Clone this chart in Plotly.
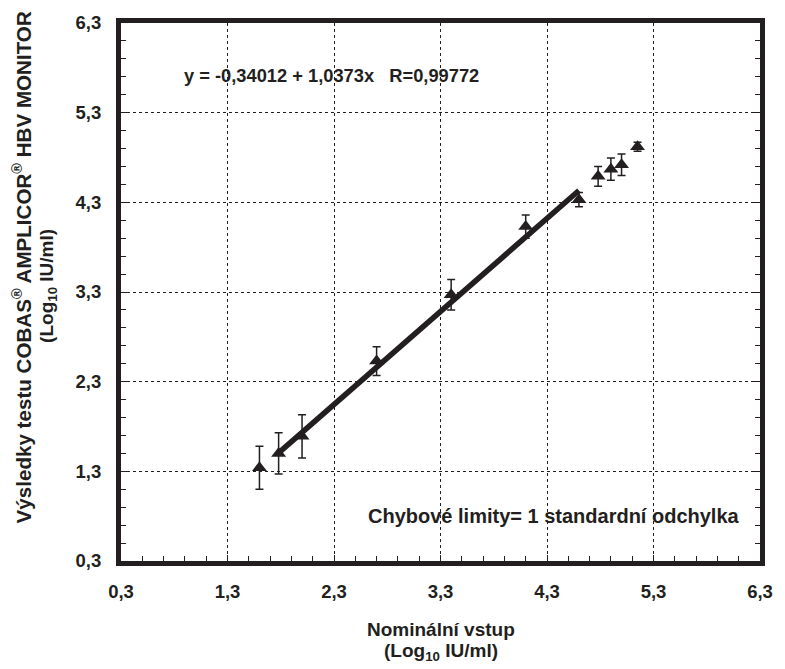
import plotly.graph_objects as go

# Data
nominal = [1.60, 1.78, 2.00, 2.70, 3.40, 4.10, 4.60, 4.78, 4.90, 5.00, 5.15]
measured = [1.34, 1.50, 1.69, 2.53, 3.27, 4.03, 4.33, 4.59, 4.67, 4.72, 4.92]
sd = [0.24, 0.23, 0.24, 0.16, 0.17, 0.13, 0.08, 0.11, 0.125, 0.12, 0.05]

intercept = -0.34012
slope = 1.0373
fit_x = [1.78, 4.60]
fit_y = [intercept + slope * v for v in fit_x]

tick_vals = [0.3, 1.3, 2.3, 3.3, 4.3, 5.3, 6.3]
tick_text = ["0,3", "1,3", "2,3", "3,3", "4,3", "5,3", "6,3"]

ink = "#231f20"
fam = "Liberation Sans, Arial, sans-serif"

fig = go.Figure()
fig.add_trace(go.Scatter(
    x=fit_x, y=fit_y, mode="lines",
    line=dict(color=ink, width=5.5), showlegend=False, hoverinfo="skip"))
fig.add_trace(go.Scatter(
    x=nominal, y=measured, mode="markers",
    marker=dict(symbol="triangle-up", size=13, color=ink),
    error_y=dict(type="data", array=sd, visible=True, color=ink,
                 thickness=1.5, width=4),
    showlegend=False))

axis_common = dict(
    range=[0.3, 6.3], tickvals=tick_vals, ticktext=tick_text,
    showgrid=True, gridcolor=ink, gridwidth=1, griddash="3px,3px",
    zeroline=False, showline=True, linecolor=ink, linewidth=5,
    ticks="inside", ticklen=6, tickwidth=1, tickcolor=ink,
    minor=dict(ticks="inside", tick0=0.3, dtick=0.2, ticklen=5,
               tickcolor=ink, tickwidth=1, showgrid=False),
    tickfont=dict(family=fam, size=18.5, color=ink, weight="bold"),
)

fig.update_xaxes(**axis_common, mirror=True, ticklabelstandoff=10)
fig.update_yaxes(**axis_common, mirror="allticks", ticklabelstandoff=11)

annots = [
    dict(x=0.87, y=5.71, xref="x", yref="y", xanchor="left", yanchor="middle",
         text="<b>y = -0,34012 + 1,0373x\u00a0\u00a0 R=0,99772</b>",
         showarrow=False, font=dict(family=fam, size=18.3, color=ink)),
    dict(x=2.6, y=0.80, xref="x", yref="y", xanchor="left", yanchor="middle",
         text="<b>Chybové limity= 1 standardní odchylka</b>",
         showarrow=False, font=dict(family=fam, size=20, color=ink)),
    dict(x=0.5, y=-0.128, xref="paper", yref="paper", xanchor="center", yanchor="middle",
         text="<b>Nominální vstup</b>",
         showarrow=False, font=dict(family=fam, size=19, color=ink)),
    dict(x=0.5, y=-0.17, xref="paper", yref="paper", xanchor="center", yanchor="middle",
         text="<b>(Log<sub>10</sub> IU/ml)</b>",
         showarrow=False, font=dict(family=fam, size=19, color=ink)),
    dict(x=20, y=267, xref="paper", yref="paper", xanchor="center", yanchor="middle",
         text="<b>Výsledky testu COBAS<sup>®</sup> AMPLICOR<sup>®</sup> HBV MONITOR</b>",
         textangle=-90, showarrow=False, font=dict(family=fam, size=20.6, color=ink)),
    dict(x=46, y=285, xref="paper", yref="paper", xanchor="center", yanchor="middle",
         text="<b>(Log<sub>10</sub> IU/ml)</b>",
         textangle=-90, showarrow=False, font=dict(family=fam, size=19, color=ink)),
]

L, R, T, B = 121, 13, 22, 108
W, H = 785, 669
pw, ph = W - L - R, H - T - B
for a in annots[4:]:
    px, py = a["x"], a["y"]
    a["x"] = (px - L) / pw
    a["y"] = (H - B - py) / ph

fig.update_layout(
    width=W, height=H,
    margin=dict(l=L, r=R, t=T, b=B),
    paper_bgcolor="white", plot_bgcolor="white",
    annotations=annots,
    font=dict(family=fam, color=ink),
)

fig.write_html("out.html")
